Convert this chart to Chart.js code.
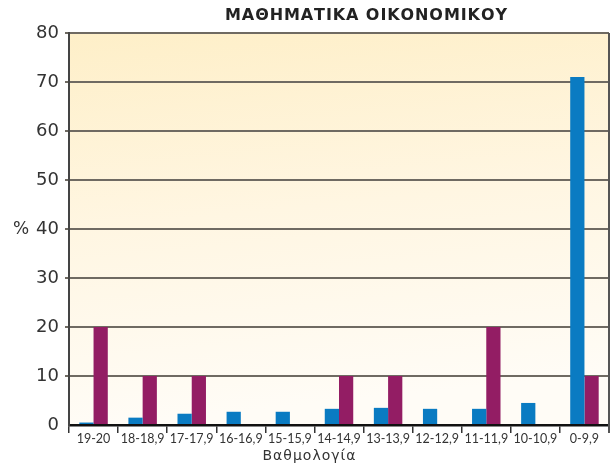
<!DOCTYPE html>
<html>
<head>
<meta charset="utf-8">
<script src="https://cdn.jsdelivr.net/npm/chart.js@4/dist/chart.umd.min.js"></script>
<style>
  html, body { margin: 0; padding: 0; background: #fff; }
  #box { width: 611px; height: 469px; }
</style>
</head>
<body>
<div id="box"><canvas id="myChart" width="611" height="469"></canvas></div>
<script>
const categories = ["19-20", "18-18,9", "17-17,9", "16-16,9", "15-15,9", "14-14,9",
  "13-13,9", "12-12,9", "11-11,9", "10-10,9", "0-9,9"];
const blueValues = [0.5, 1.5, 2.3, 2.7, 2.7, 3.3, 3.5, 3.3, 3.3, 4.5, 71];
const purpleValues = [20, 10, 10, 0, 0, 10, 10, 0, 20, 0, 10];
const yTicks = [0, 10, 20, 30, 40, 50, 60, 70, 80];

const titleText = "ΜΑΘΗΜΑΤΙΚΑ ΟΙΚΟΝΟΜΙΚΟΥ";
const xTitle = "Βαθμολογία";
const yTitle = "%";

const fontName = "Lato, 'Noto Sans', sans-serif";
const wideFont = "'DejaVu Sans', sans-serif";

// draw text stretched with letter spacing to a given width
function drawFitted(ctx, text, cx, cy, width) {
  ctx.letterSpacing = "0px";
  let w = ctx.measureText(text).width;
  let sp = (width - w) / (text.length - 1);
  ctx.letterSpacing = sp + "px";
  ctx.textAlign = "left";
  ctx.fillText(text, cx - width / 2, cy);
  ctx.letterSpacing = "0px";
}

// background gradient + frame + titles
const decor = {
  id: "decor",
  beforeDraw(chart) {
    const { ctx, chartArea: a } = chart;
    ctx.save();
    let g = ctx.createLinearGradient(a.left, a.top, a.left + 40, a.bottom);
    g.addColorStop(0, "#feefc8");
    g.addColorStop(0.5, "#fff6e2");
    g.addColorStop(1, "#fffcf6");
    ctx.fillStyle = g;
    ctx.fillRect(a.left, a.top, a.right - a.left, a.bottom - a.top);
    ctx.restore();
  },
  afterDraw(chart) {
    const { ctx, chartArea: a } = chart;
    ctx.save();
    // right border
    ctx.strokeStyle = "#555";
    ctx.lineWidth = 2;
    ctx.beginPath();
    ctx.moveTo(a.right, a.top);
    ctx.lineTo(a.right, a.bottom + 8);
    ctx.stroke();

    ctx.fillStyle = "#222";
    ctx.textBaseline = "middle";
    ctx.font = "bold 16px " + wideFont;
    drawFitted(ctx, titleText, 366, 16, 282);

    ctx.fillStyle = "#333";
    ctx.font = "14px " + wideFont;
    drawFitted(ctx, xTitle, 309, 456, 93);

    const y = chart.scales.y;
    ctx.textAlign = "center";
    ctx.font = "17px " + wideFont;
    ctx.fillText(yTitle, 21, y.getPixelForValue(40) + 1);
    ctx.restore();
  }
};

new Chart(document.getElementById("myChart"), {
  type: "bar",
  data: {
    labels: categories,
    datasets: [
      {
        label: "blue",
        data: blueValues,
        backgroundColor: "#0a7bc2",
        categoryPercentage: 0.58,
        barPercentage: 1.0,
      },
      {
        label: "purple",
        data: purpleValues,
        backgroundColor: "#931d64",
        categoryPercentage: 0.58,
        barPercentage: 1.0,
      },
    ],
  },
  options: {
    responsive: false,
    animation: false,
    layout: { padding: { top: 33, right: 2, left: 29, bottom: 0 } },
    plugins: {
      legend: { display: false },
      tooltip: { enabled: false },
    },
    scales: {
      x: {
        grid: {
          display: true,
          offset: true,
          drawOnChartArea: false,
          drawTicks: true,
          tickLength: 8,
          color: "#333",
          lineWidth: 1.5,
        },
        border: { display: true, color: "#111", width: 2.5 },
        ticks: {
          color: "#333",
          font: { family: fontName, size: 12.5 },
          padding: -2,
          maxRotation: 0,
          autoSkip: false,
        },
        afterFit: (s) => { s.height = 44; },
      },
      y: {
        min: 0,
        max: 80,
        afterBuildTicks: (s) => { s.ticks = yTicks.map((v) => ({ value: v })); },
        grid: {
          color: (c) => (c.tick && c.tick.value === 0 ? "rgba(0,0,0,0)" : "#6f6a62"),
          lineWidth: 2,
          drawTicks: true,
          tickLength: 4,
        },
        border: { display: true, color: "#444", width: 2 },
        ticks: {
          color: "#333",
          font: { family: wideFont, size: 18 },
          padding: 6,
        },
        afterFit: (s) => { s.width = 40; },
      },
    },
  },
  plugins: [decor],
});
</script>
</body>
</html>
